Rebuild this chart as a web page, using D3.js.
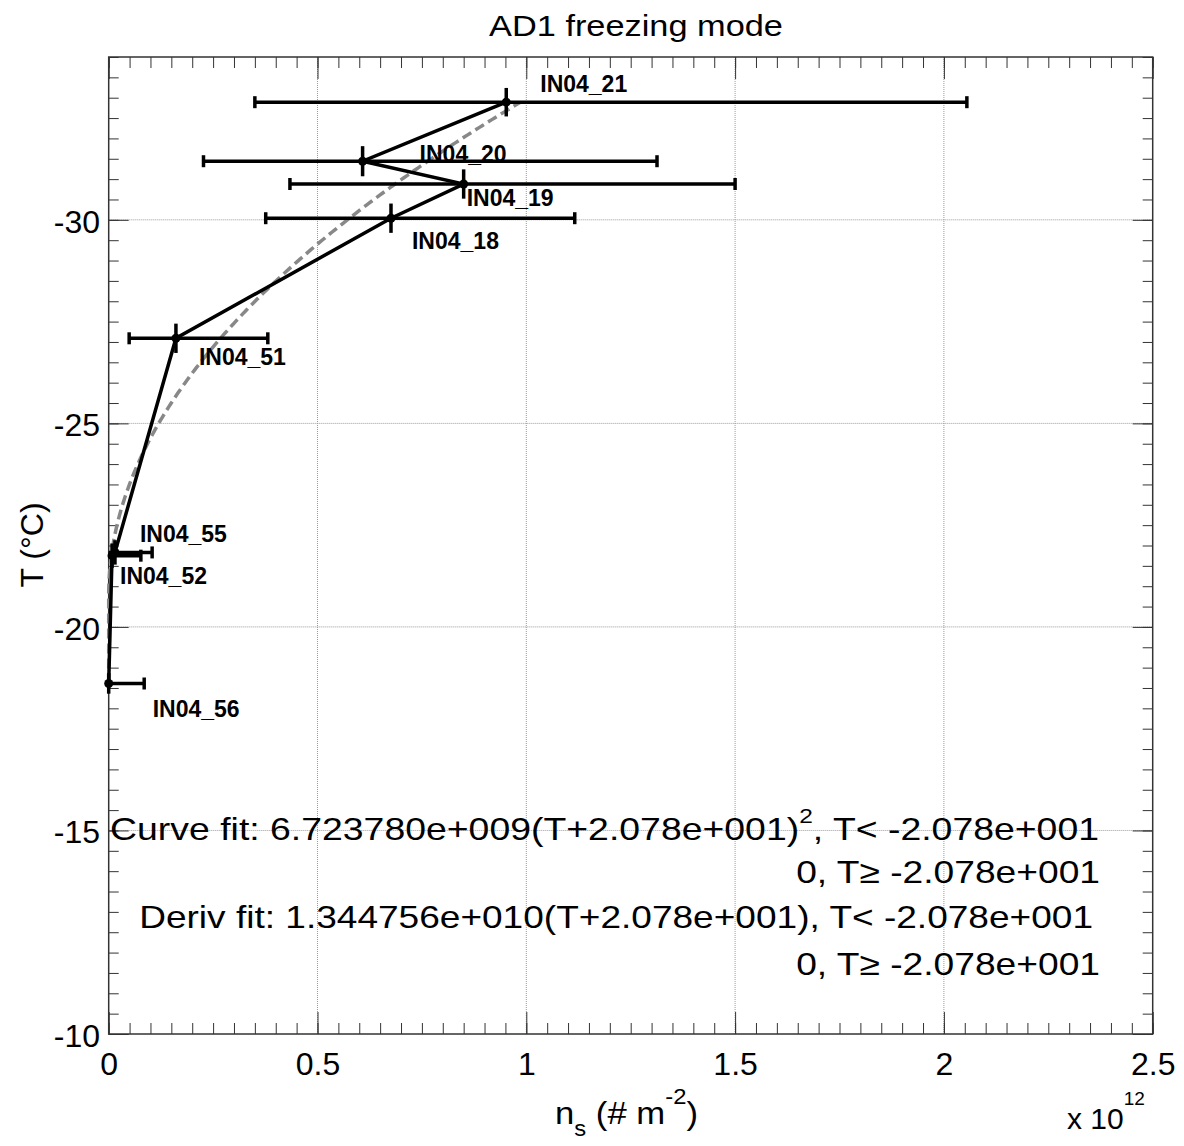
<!DOCTYPE html>
<html>
<head>
<meta charset="utf-8">
<script src="https://cdn.jsdelivr.net/npm/d3@7"></script>
<style>
  html, body { margin: 0; padding: 0; background: #fff; }
  svg { display: block; font-family: "Liberation Sans", Arial, Helvetica, sans-serif; }
</style>
</head>
<body>
<svg id="chart" width="1184" height="1146"></svg>
<script>
// Ice-nucleation site density (n_s, in units of 1e12 m^-2) against freezing temperature
const samples     = ["IN04_21", "IN04_20", "IN04_19", "IN04_18", "IN04_51", "IN04_55", "IN04_52", "IN04_56"];
const temperature = [-32.89, -31.44, -30.88, -30.04, -27.09, -21.83, -21.75, -18.61];
const tempError   = [0.35, 0.37, 0.36, 0.36, 0.36, 0.30, 0.30, 0.25];
const ns          = [0.952, 0.608, 0.850, 0.676, 0.161, 0.015, 0.008, 0.000];
const nsLow       = [0.350, 0.227, 0.434, 0.376, 0.049, 0.000, 0.000, 0.000];
const nsHigh      = [2.055, 1.313, 1.500, 1.116, 0.381, 0.104, 0.077, 0.085];

const xTicks = [0, 0.5, 1, 1.5, 2, 2.5];
const yTicks = [-10, -15, -20, -25, -30];

// quadratic fit n_s = A (T - T0)^2 for T < T0, 0 otherwise
const fitA  = 6.723780e9;
const fitT0 = -2.078e1;

// label placement relative to each point (px)
const labelOffsets = [[34, -10], [57, 1], [3, 22], [21, 31], [23, 27], [25, -10], [8, 28], [44, 33]];

const svg = d3.select("#chart");
const W = 1184, H = 1146;
const pLeft = 108.7, pRight = 1152.7, pTop = 57, pBottom = 1034;

const x = d3.scaleLinear().domain([0, 2.5]).range([pLeft, pRight]);
const y = d3.scaleLinear().domain([-10, -34]).range([pBottom, pTop]);

svg.append("rect").attr("width", W).attr("height", H).attr("fill", "#fff");

// dotted grid at major ticks
const grid = svg.append("g").attr("stroke", "#9a9a9a").attr("stroke-width", 1).attr("stroke-dasharray", "1,1");
grid.selectAll(".gx").data(xTicks.filter(d => d > 0 && d < 2.5)).join("line")
  .attr("x1", d => x(d)).attr("x2", d => x(d)).attr("y1", pTop).attr("y2", pBottom);
grid.selectAll(".gy").data(yTicks.filter(d => d < -10)).join("line")
  .attr("x1", pLeft).attr("x2", pRight).attr("y1", d => y(d)).attr("y2", d => y(d));

// ticks on all four sides
const minorX = d3.range(0, 50.5, 1).map(i => i * 0.05);
const minorY = d3.range(0, 48.5, 1).map(i => -10 - i * 0.5);
const noLabel = () => "";

function styleAxis(g) {
  g.select(".domain").remove();
  g.selectAll(".tick line").attr("stroke", "#333").attr("stroke-width", 1);
}

svg.append("g").attr("transform", `translate(0,${pBottom})`)
  .call(d3.axisBottom(x).tickValues(minorX).tickSize(-11).tickFormat(noLabel)).call(styleAxis);
svg.append("g").attr("transform", `translate(0,${pTop})`)
  .call(d3.axisTop(x).tickValues(minorX).tickSize(-11).tickFormat(noLabel)).call(styleAxis);
svg.append("g").attr("transform", `translate(${pLeft},0)`)
  .call(d3.axisLeft(y).tickValues(minorY).tickSize(-10).tickFormat(noLabel)).call(styleAxis);
svg.append("g").attr("transform", `translate(${pRight},0)`)
  .call(d3.axisRight(y).tickValues(minorY).tickSize(-10).tickFormat(noLabel)).call(styleAxis);

const xAxis = svg.append("g").attr("transform", `translate(0,${pBottom})`)
  .call(d3.axisBottom(x).tickValues(xTicks).tickSize(-22).tickFormat(d => String(d)))
  .call(styleAxis);
xAxis.selectAll("text").attr("y", 41).attr("dy", 0)
  .attr("font-size", 32).attr("font-family", "Liberation Sans, Arial, sans-serif").attr("fill", "#000");

svg.append("g").attr("transform", `translate(0,${pTop})`)
  .call(d3.axisTop(x).tickValues(xTicks).tickSize(-22).tickFormat(noLabel)).call(styleAxis);

const yAxis = svg.append("g").attr("transform", `translate(${pLeft},0)`)
  .call(d3.axisLeft(y).tickValues(yTicks).tickSize(-20).tickFormat(d => String(d)))
  .call(styleAxis);
yAxis.selectAll("text").attr("x", -8.7).attr("dy", 12.5)
  .attr("font-size", 32).attr("font-family", "Liberation Sans, Arial, sans-serif").attr("fill", "#000");

svg.append("g").attr("transform", `translate(${pRight},0)`)
  .call(d3.axisRight(y).tickValues(yTicks).tickSize(-20).tickFormat(noLabel)).call(styleAxis);

// plot frame
svg.append("rect").attr("x", pLeft).attr("y", pTop)
  .attr("width", pRight - pLeft).attr("height", pBottom - pTop)
  .attr("fill", "none").attr("stroke", "#333").attr("stroke-width", 1.5);

// fitted curve (dashed grey)
const tMin = d3.min(temperature), tMax = d3.max(temperature);
const fitT = d3.range(0, 301).map(i => tMax + (tMin - tMax) * i / 300);
const fitN = t => (t < fitT0 ? fitA * (t - fitT0) ** 2 : 0) / 1e12;
svg.append("path")
  .datum(fitT)
  .attr("fill", "none").attr("stroke", "#888").attr("stroke-width", 3.5)
  .attr("stroke-dasharray", "10,5")
  .attr("d", d3.line().x(t => x(fitN(t))).y(t => y(t)));

const pts = samples.map((s, i) => ({
  name: s, t: temperature[i], te: tempError[i], n: ns[i], lo: nsLow[i], hi: nsHigh[i], off: labelOffsets[i]
}));

// error bars
const eb = svg.append("g").attr("stroke", "#000").attr("stroke-width", 3.5);
eb.selectAll(".h").data(pts).join("line")
  .attr("x1", d => x(d.lo)).attr("x2", d => x(d.hi))
  .attr("y1", d => y(d.t)).attr("y2", d => y(d.t));
eb.selectAll(".capL").data(pts.filter(d => d.lo > 0)).join("line")
  .attr("x1", d => x(d.lo)).attr("x2", d => x(d.lo))
  .attr("y1", d => y(d.t) - 6).attr("y2", d => y(d.t) + 6);
eb.selectAll(".capR").data(pts).join("line")
  .attr("x1", d => x(d.hi)).attr("x2", d => x(d.hi))
  .attr("y1", d => y(d.t) - 6).attr("y2", d => y(d.t) + 6);
eb.selectAll(".v").data(pts).join("line")
  .attr("x1", d => x(d.n)).attr("x2", d => x(d.n))
  .attr("y1", d => y(d.t - d.te)).attr("y2", d => y(d.t + d.te));

// connecting line through the measurements
svg.append("path").datum(pts)
  .attr("fill", "none").attr("stroke", "#000").attr("stroke-width", 3.5).attr("stroke-linejoin", "miter")
  .attr("d", d3.line().x(d => x(d.n)).y(d => y(d.t)));

svg.append("g").selectAll("circle").data(pts).join("circle")
  .attr("cx", d => x(d.n)).attr("cy", d => y(d.t)).attr("r", 4.5).attr("fill", "#000");

// sample labels
svg.append("g").selectAll("text").data(pts).join("text")
  .attr("x", d => x(d.n) + d.off[0]).attr("y", d => y(d.t) + d.off[1])
  .attr("font-size", 23).attr("font-weight", "bold").attr("fill", "#000")
  .text(d => d.name);

// text that is stretched to a set width
function fitText(sel, px, py, width, anchor) {
  sel.attr("text-anchor", anchor);
  const w = sel.node().getBBox().width;
  sel.attr("transform", `translate(${px},${py}) scale(${width / w},1)`);
  return sel;
}

// title
fitText(svg.append("text").attr("font-size", 30).attr("fill", "#000").text("AD1 freezing mode"),
  636, 36, 294, "middle");

// axis titles
const xl = svg.append("text").attr("font-size", 32).attr("fill", "#000");
xl.append("tspan").text("n");
xl.append("tspan").attr("font-size", 22).attr("dy", 12).text("s");
xl.append("tspan").attr("dy", -12).text(" (# m");
xl.append("tspan").attr("font-size", 22).attr("dy", -20).text("-2");
xl.append("tspan").attr("dy", 20).text(")");
fitText(xl, 626.5, 1124, 143, "middle");

svg.append("text").attr("font-size", 32).attr("fill", "#000")
  .attr("text-anchor", "middle")
  .attr("transform", "translate(43,545) rotate(-90)")
  .text("T (°C)");

const ex = svg.append("text").attr("font-size", 30).attr("fill", "#000").attr("x", 1067).attr("y", 1129);
ex.append("tspan").text("x 10");
ex.append("tspan").attr("font-size", 19).attr("dy", -24).text("12");

// fit equations
const fmtT0 = "2.078e+001";
const l1 = svg.append("text").attr("font-size", 32).attr("fill", "#000");
l1.append("tspan").text(`Curve fit: 6.723780e+009(T+${fmtT0})`);
l1.append("tspan").attr("font-size", 21).attr("dy", -17).text("2");
l1.append("tspan").attr("dy", 17).text(`, T< -${fmtT0}`);
fitText(l1, 1099, 840, 989, "end");

fitText(svg.append("text").attr("font-size", 32).attr("fill", "#000").text(`0, T\u2265 -${fmtT0}`),
  1100, 883, 304, "end");
fitText(svg.append("text").attr("font-size", 32).attr("fill", "#000")
  .text(`Deriv fit: 1.344756e+010(T+${fmtT0}), T< -${fmtT0}`),
  1093, 928, 954, "end");
fitText(svg.append("text").attr("font-size", 32).attr("fill", "#000").text(`0, T\u2265 -${fmtT0}`),
  1100, 975, 304, "end");
</script>
</body>
</html>
